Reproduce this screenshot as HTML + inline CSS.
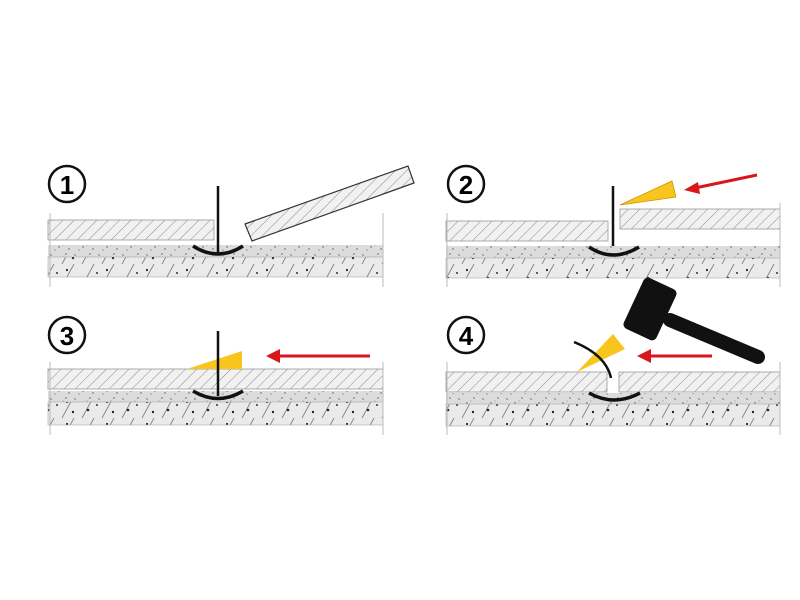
<!DOCTYPE html>
<html><head><meta charset="utf-8"><style>html,body{margin:0;padding:0;background:#fff}svg{display:block}</style></head>
<body>
<svg width="800" height="600" viewBox="0 0 800 600" xmlns="http://www.w3.org/2000/svg">
<defs>
<pattern id="h" width="8" height="8" patternUnits="userSpaceOnUse" patternTransform="rotate(45)">
<rect width="8" height="8" fill="#f1f1f1"/><line x1="0" y1="0" x2="0" y2="8" stroke="#8a8a8a" stroke-width="1"/></pattern>
<pattern id="m" width="24" height="12" patternUnits="userSpaceOnUse">
<rect width="24" height="12" fill="#dcdcdc"/>
<circle cx="3" cy="3" r=".7" fill="#555"/><circle cx="11" cy="7" r=".7" fill="#555"/><circle cx="18" cy="2" r=".7" fill="#555"/><circle cx="7" cy="10" r=".6" fill="#666"/><circle cx="21" cy="9" r=".7" fill="#555"/><circle cx="15" cy="5" r=".5" fill="#777"/></pattern>
<pattern id="b" width="40" height="22" patternUnits="userSpaceOnUse">
<rect width="40" height="22" fill="#eaeaea"/>
<line x1="2" y1="22" x2="14" y2="0" stroke="#777" stroke-width=".8"/><line x1="22" y1="22" x2="34" y2="0" stroke="#777" stroke-width=".8"/>
<circle cx="8" cy="14" r="1.3" fill="#222"/><circle cx="27" cy="6" r="1.1" fill="#222"/><circle cx="33" cy="16" r="1.2" fill="#222"/><circle cx="17" cy="9" r="1" fill="#333"/></pattern>
</defs>
<g font-family="Liberation Sans, sans-serif" font-weight="bold" font-size="26" text-anchor="middle">
<!-- Panel 1 -->
<circle cx="67" cy="184" r="18" fill="none" stroke="#111" stroke-width="2.5"/><text x="67" y="194">1</text>
<rect x="48" y="245" width="335" height="13" fill="url(#m)"/>
<rect x="48" y="257" width="335" height="20" fill="url(#b)" stroke="#aaa" stroke-width=".6"/>
<rect x="48" y="220" width="166" height="20" fill="url(#h)" stroke="#999" stroke-width=".8"/>
<polygon points="245,224 408,166 414,183 252,241" fill="url(#h)" stroke="#333" stroke-width="1.2"/>
<line x1="50" y1="213" x2="50" y2="287" stroke="#bbb"/><line x1="383" y1="213" x2="383" y2="287" stroke="#bbb"/>
<line x1="218" y1="186" x2="218" y2="253" stroke="#111" stroke-width="2.5"/>
<path d="M193,246 Q218,262 243,246" fill="none" stroke="#111" stroke-width="3.5"/>
<!-- Panel 2 -->
<circle cx="466" cy="184" r="18" fill="none" stroke="#111" stroke-width="2.5"/><text x="466" y="194">2</text>
<rect x="446" y="246" width="334" height="13" fill="url(#m)"/>
<rect x="446" y="258" width="334" height="20" fill="url(#b)" stroke="#aaa" stroke-width=".6"/>
<rect x="446" y="221" width="162" height="20" fill="url(#h)" stroke="#999" stroke-width=".8"/>
<rect x="620" y="209" width="160" height="20" fill="url(#h)" stroke="#999" stroke-width=".8"/>
<line x1="447" y1="213" x2="447" y2="287" stroke="#bbb"/><line x1="780" y1="203" x2="780" y2="287" stroke="#bbb"/>
<line x1="613" y1="186" x2="613" y2="246" stroke="#111" stroke-width="2.5"/>
<path d="M589,247 Q613,263 639,247" fill="none" stroke="#111" stroke-width="3.5"/>
<polygon points="620,205 672,181 676,197" fill="#f7c51e" stroke="#c99a00" stroke-width=".8"/>
<line x1="757" y1="175" x2="695" y2="188" stroke="#d8161b" stroke-width="3"/>
<polygon points="684,190 698,182 700,194" fill="#d8161b"/>
<!-- Panel 3 -->
<circle cx="67" cy="335" r="18" fill="none" stroke="#111" stroke-width="2.5"/><text x="67" y="345">3</text>
<rect x="48" y="391" width="335" height="12" fill="url(#m)"/>
<rect x="48" y="402" width="335" height="23" fill="url(#b)" stroke="#aaa" stroke-width=".6"/>
<rect x="48" y="369" width="335" height="20" fill="url(#h)" stroke="#999" stroke-width=".8"/>
<line x1="50" y1="362" x2="50" y2="435" stroke="#bbb"/><line x1="383" y1="362" x2="383" y2="435" stroke="#bbb"/>
<polygon points="187,369 242,351 242,369" fill="#f7c51e"/>
<line x1="218" y1="331" x2="218" y2="396" stroke="#111" stroke-width="2.5"/>
<path d="M193,391 Q218,406 243,391" fill="none" stroke="#111" stroke-width="3.5"/>
<line x1="370" y1="356" x2="278" y2="356" stroke="#d8161b" stroke-width="3"/>
<polygon points="266,356 280,349 280,363" fill="#d8161b"/>
<!-- Panel 4 -->
<circle cx="466" cy="335" r="18" fill="none" stroke="#111" stroke-width="2.5"/><text x="466" y="345">4</text>
<rect x="446" y="393" width="334" height="12" fill="url(#m)"/>
<rect x="446" y="404" width="334" height="22" fill="url(#b)" stroke="#aaa" stroke-width=".6"/>
<rect x="446" y="372" width="161" height="20" fill="url(#h)" stroke="#999" stroke-width=".8"/>
<rect x="619" y="372" width="161" height="20" fill="url(#h)" stroke="#999" stroke-width=".8"/>
<line x1="447" y1="362" x2="447" y2="435" stroke="#bbb"/><line x1="780" y1="362" x2="780" y2="435" stroke="#bbb"/>
<polygon points="577,372 613,334 625,349" fill="#f7c51e"/>
<path d="M574,342 Q606,355 611,378" fill="none" stroke="#111" stroke-width="2.5"/>
<path d="M589,393 Q614,407 640,393" fill="none" stroke="#111" stroke-width="3.5"/>
<line x1="712" y1="356" x2="650" y2="356" stroke="#d8161b" stroke-width="3"/>
<polygon points="637,356 651,349 651,363" fill="#d8161b"/>
<line x1="670" y1="320" x2="758" y2="357" stroke="#111" stroke-width="14" stroke-linecap="round"/>
<rect x="-18" y="-28" width="36" height="56" rx="5" fill="#111" transform="translate(650,309) rotate(25)"/>
</g>
</svg>
</body></html>
